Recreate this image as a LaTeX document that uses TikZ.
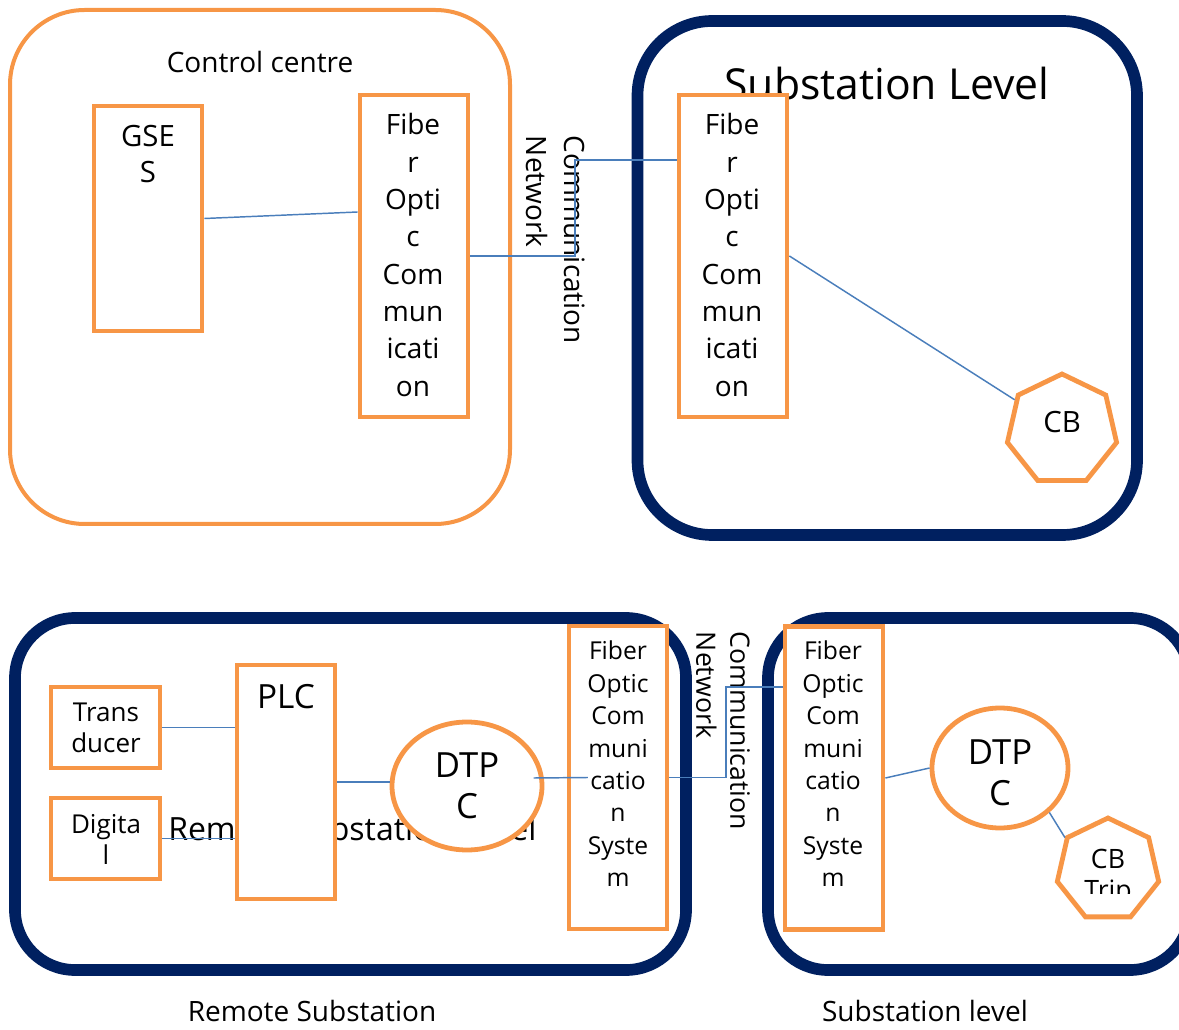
\documentclass[tikz,border=0pt]{standalone}
\usepackage{fontspec}
\setmainfont{Open Sans}
\usetikzlibrary{shapes.geometric}
\definecolor{orng}{HTML}{F79646}
\definecolor{navyc}{HTML}{002060}
\definecolor{linkc}{HTML}{4A7EBB}
\begin{document}
\begin{tikzpicture}[x=0.75pt,y=-0.75pt,
  obox/.style={draw=orng,line width=3.6pt,fill=white,rectangle,inner sep=0pt},
  oell/.style={draw=orng,line width=3.6pt,fill=white,ellipse,inner sep=0pt},
  ohept/.style={draw=orng,line width=3.6pt,fill=white,regular polygon,regular polygon sides=7,inner sep=0pt},
  navybox/.style={draw=navyc,line width=8.75pt},
  link/.style={draw=linkc,line width=1.1pt},
  txt/.style={inner sep=0pt,align=center,text=black}
]
\useasboundingbox (0,0) rectangle (1179,1030);
\clip (0,0) rectangle (1179,1030);

% containers
\draw[draw=orng,line width=3pt,rounded corners=56pt] (10,10) rectangle (510,524);
\draw[navybox,rounded corners=56pt] (637.5,21) rectangle (1137,535);
\draw[navybox,rounded corners=45pt] (15,618) rectangle (686,970);
\draw[navybox,rounded corners=45pt] (768,618) rectangle (1190,970);

% titles
\node[txt,font=\fontsize{21}{25}\selectfont,anchor=base] (cctitle) at (260,73) {Control centre};
\node[txt,font=\fontsize{32}{38}\selectfont,anchor=base] (sltitle) at (887,100) {Substation Level};
\node[txt,font=\fontsize{24}{28}\selectfont,anchor=base west] (rsltitle) at (168,840) {Remote Substation Level};

% boxes
\node[obox,minimum width=81pt,minimum height=168.75pt] (gses) at (148,218.5) {};
\node[obox,minimum width=81pt,minimum height=241.5pt] (fibL) at (414,256) {};
\node[obox,minimum width=81pt,minimum height=241.5pt] (fibR) at (733,256) {};
\node[ohept,minimum size=84pt] (cb) at (1062,430) {};
\node[obox,minimum width=81.75pt,minimum height=60.75pt] (trans) at (105.5,727.5) {};
\node[obox,minimum width=81.75pt,minimum height=60.75pt] (dig) at (105.5,838.5) {};
\node[obox,minimum width=73.5pt,minimum height=175.5pt] (plc) at (286,782) {};
\node[oell,minimum width=112.5pt,minimum height=96pt] (dtpcL) at (467,786) {};
\node[obox,minimum width=73.5pt,minimum height=227.25pt] (fibBL) at (618,777.5) {};
\node[obox,minimum width=73.5pt,minimum height=227.25pt] (fibBR) at (834,778) {};
\node[oell,minimum width=102pt,minimum height=90pt] (dtpcR) at (1000,768) {};
\node[ohept,minimum size=78pt] (cbtrip) at (1108,870) {};

% texts
\node[txt,font=\fontsize{22}{27}\selectfont] (gsesT) at (148,154) {GSE\\S};
\node[txt,font=\fontsize{21}{28}\selectfont] (fibLT) at (413,255) {Fibe\\r\\Opti\\c\\Com\\mun\\icati\\on};
\node[txt,font=\fontsize{21}{28}\selectfont] (fibRT) at (732,255) {Fibe\\r\\Opti\\c\\Com\\mun\\icati\\on};
\node[txt,font=\fontsize{21}{28.5}\selectfont,rotate=-90,align=left] (cnTop) at (556,240) {Communication\\Network};
\node[txt,font=\fontsize{22}{26}\selectfont] (cbT) at (1062,422) {CB};
\node[txt,font=\fontsize{19.5}{23.25}\selectfont] (transT) at (106,728) {Trans\\ducer};
\node[txt,font=\fontsize{19.5}{23.25}\selectfont] (digT) at (106,839) {Digita\\l};
\node[txt,font=\fontsize{25}{30}\selectfont,anchor=base] (plcT) at (286,708) {PLC};
\node[txt,font=\fontsize{26}{31}\selectfont] (dtpcLT) at (467,786) {DTP\\C};
\node[txt,font=\fontsize{18.5}{24.3}\selectfont] (fibBLT) at (618,764) {Fiber\\Optic\\Com\\muni\\catio\\n\\Syste\\m};
\node[txt,font=\fontsize{18.5}{24.3}\selectfont] (fibBRT) at (833,764) {Fiber\\Optic\\Com\\muni\\catio\\n\\Syste\\m};
\node[txt,font=\fontsize{20}{25.5}\selectfont,rotate=-90,align=left] (cnBot) at (723,731) {Communication\\Network};
\node[txt,font=\fontsize{26}{31}\selectfont] (dtpcRT) at (1000,773) {DTP\\C};
\begin{scope}
  \clip (1050,840) rectangle (1170,893);
  \node[txt,font=\fontsize{20}{23}\selectfont,anchor=north] (cbtripT) at (1108,849) {CB\\Trip};
\end{scope}
\node[txt,font=\fontsize{21}{25}\selectfont,anchor=base] (rsLab) at (312,1021) {Remote Substation};
\node[txt,font=\fontsize{21}{25}\selectfont,anchor=base] (slLab) at (925,1021) {Substation level};

% connectors
\draw[link] (gses.east) -- ([yshift=33pt]fibL.west);
\coordinate (kTop) at (575,256);
\draw[link] (fibL.east) -- (kTop) |- ([yshift=72pt]fibR.west);
\draw[link] (fibR.east) -- (cb);
\draw[link] (trans.east) -- (trans.east -| plc.west);
\draw[link] (dig.east) -- (dig.east -| plc.west);
\draw[link] (plc.east) -- (plc.east -| dtpcL.west);
\draw[link] ([xshift=-8pt,yshift=6pt]dtpcL.east) -- ([xshift=16pt]fibBL.west);
\coordinate (kBot) at (726,777.5);
\draw[link] (fibBL.east) -- (kBot) |- ([yshift=68.25pt]fibBR.west);
\draw[link] (fibBR.east) -- (dtpcR.west);
\draw[link] (dtpcR.-42) -- (cbtrip.143);
\end{tikzpicture}
\end{document}
